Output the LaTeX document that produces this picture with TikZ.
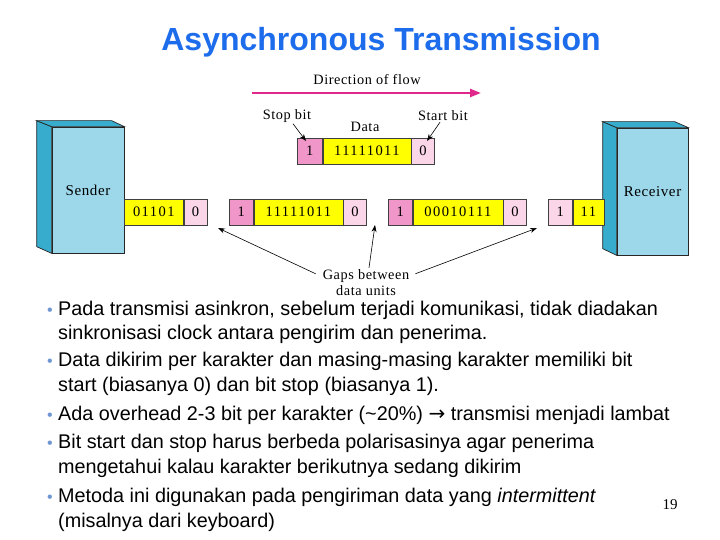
\documentclass[tikz,border=0pt]{standalone}
\usepackage{fontspec}
\setmainfont{Liberation Serif}
\newfontfamily\arial{Liberation Sans}
\newfontfamily\dejavu{DejaVu Sans}
\newfontfamily\bitfont[LetterSpace=10]{Liberation Serif}
\newfontfamily\lblfont[LetterSpace=4]{Liberation Serif}
\usetikzlibrary{arrows.meta}
\definecolor{ttl}{RGB}{28,108,236}
\definecolor{ylw}{RGB}{255,255,0}
\definecolor{pkd}{RGB}{240,150,200}
\definecolor{pkl}{RGB}{250,214,232}
\definecolor{bxf}{RGB}{156,215,234}
\definecolor{bxs}{RGB}{56,172,204}
\definecolor{flow}{RGB}{224,40,140}
\definecolor{bulc}{RGB}{110,150,210}
\begin{document}
\begin{tikzpicture}[x=1pt,y=-1pt,
  bitbox/.style={draw=black!75, line width=0.6pt, minimum height=26, inner sep=0pt, anchor=west, font=\bitfont\fontsize{14.5}{14}\selectfont},
  lbl/.style={inner sep=1pt, font=\lblfont\fontsize{14.3}{15}\selectfont},
  face/.style={draw=black!85, line width=0.7pt},
  arr/.style={draw=black, line width=0.6pt, -{Stealth[length=7pt,width=5pt]}},
  bline/.style={anchor=base west, inner sep=0pt, font=\arial\fontsize{19.8}{22}\selectfont},
  bul/.style={anchor=base, inner sep=0pt, text=bulc, font=\arial\fontsize{16}{16}\selectfont}
]
\useasboundingbox (0,0) rectangle (720,540);
\fill[white] (0,0) rectangle (720,540);

% title
\node[font=\arial\bfseries\fontsize{32}{34}\selectfont, text=ttl, inner sep=0pt] (title) at (381,42) {Asynchronous Transmission};

% Sender
\node[face, fill=bxf, minimum width=72, minimum height=126, inner sep=0pt, font=\lblfont\fontsize{15}{15}\selectfont] (sender) at (88,190) {Sender};
\draw[face, fill=bxs] (sender.north west) -- ++(-15,-6) -- ++(0,126) -- (sender.south west) -- cycle;
\draw[face, fill=bxs] (sender.north west) -- ++(-15,-6) -- ++(75,0) -- (sender.north east) -- cycle;

% Receiver
\node[face, fill=bxf, minimum width=71, minimum height=127, inner sep=0pt, font=\lblfont\fontsize{15}{15}\selectfont] (receiver) at (652.5,191.5) {Receiver};
\draw[face, fill=bxs] (receiver.north west) -- ++(-14,-6) -- ++(0,127) -- (receiver.south west) -- cycle;
\draw[face, fill=bxs] (receiver.north west) -- ++(-14,-6) -- ++(72,0) -- (receiver.north east) -- cycle;

% bit row
\node[bitbox, fill=ylw, minimum width=59] (a1) at (124,212) {01101};
\node[bitbox, fill=pkl, minimum width=23] (a2) at (a1.east) {0};
\node[bitbox, fill=pkd, minimum width=24] (b1) at (229,212) {1};
\node[bitbox, fill=ylw, minimum width=89] (b2) at (b1.east) {11111011};
\node[bitbox, fill=pkl, minimum width=23] (b3) at (b2.east) {0};
\node[bitbox, fill=pkd, minimum width=24] (c1) at (388,212) {1};
\node[bitbox, fill=ylw, minimum width=90] (c2) at (c1.east) {00010111};
\node[bitbox, fill=pkl, minimum width=23] (c3) at (c2.east) {0};
\node[bitbox, fill=pkl, minimum width=24] (d1) at (548,212) {1};
\node[bitbox, fill=ylw, minimum width=31] (d2) at (d1.east) {11};

% top frame
\node[bitbox, fill=pkd, minimum width=25] (t1) at (297,151) {1};
\node[bitbox, fill=ylw, minimum width=88] (t2) at (t1.east) {11111011};
\node[bitbox, fill=pkl, minimum width=23] (t3) at (t2.east) {0};

% direction of flow
\node[lbl] (dirlbl) at (367,80) {Direction of flow};
\coordinate (fs) at (252,93);
\coordinate (fe) at (481,93);
\draw[flow, line width=2.3pt, -{Triangle[length=11pt,width=8pt]}] (fs) -- (fe);

% labels over top frame
\node[lbl] (stoplbl) at (287,116) {Stop bit};
\node[lbl] (datalbl) at (365,127) {Data};
\node[lbl] (startlbl) at (443,116) {Start bit};
\coordinate (stopp) at (306,141);
\coordinate (startp) at (427,141);
\draw[arr] (stoplbl.south) ++(6,0) -- (stopp);
\draw[arr] (startlbl.south) ++(-3,0) -- (startp);

% gaps
\node[lbl, align=center, font=\lblfont\fontsize{14.3}{16}\selectfont] (gaps) at (366,283) {Gaps between\\data units};
\coordinate (g1) at (218,228);
\coordinate (g2) at (375,225);
\coordinate (g3) at (537,228);
\draw[arr] ([shift={(-6,5)}]gaps.north west) -- (g1);
\draw[arr] ([shift={(3,-1)}]gaps.north) -- (g2);
\draw[arr] ([shift={(5,5)}]gaps.north east) -- (g3);

% bullets
\node[bul] (u1) at (50,315) {•};
\node[bline] (l1) at (58,315) {Pada transmisi asinkron, sebelum terjadi komunikasi, tidak diadakan};
\node[bline] (l2) at (58,339) {sinkronisasi clock antara pengirim dan penerima.};
\node[bul] (u2) at (50,366) {•};
\node[bline] (l3) at (58,366) {Data dikirim per karakter dan masing-masing karakter memiliki bit};
\node[bline] (l4) at (58,391) {start (biasanya 0) dan bit stop (biasanya 1).};
\node[bul] (u3) at (50,420) {•};
\node[bline] (l5) at (58,420) {Ada overhead 2-3 bit per karakter (\textasciitilde20\%) {\dejavu\fontsize{20}{20}\selectfont →} transmisi menjadi lambat};
\node[bul] (u4) at (50,448) {•};
\node[bline] (l6) at (58,448) {Bit start dan stop harus berbeda polarisasinya agar penerima};
\node[bline] (l7) at (58,473) {mengetahui kalau karakter berikutnya sedang dikirim};
\node[bul] (u5) at (50,502) {•};
\node[bline] (l8) at (58,502) {Metoda ini digunakan pada pengiriman data yang \textit{intermittent}};
\node[bline] (l9) at (58,527) {(misalnya dari keyboard)};

\node[font=\fontsize{15}{15}\selectfont, inner sep=0pt] (page) at (670,505) {19};
\end{tikzpicture}
\end{document}
